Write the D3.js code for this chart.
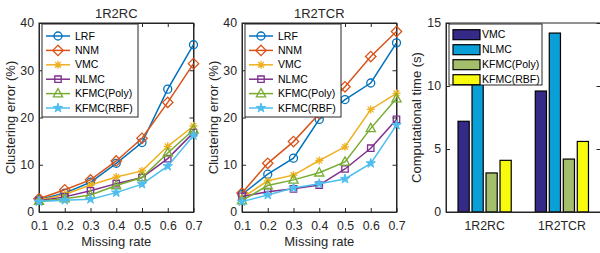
<!DOCTYPE html>
<html lang="en">
<head>
<meta charset="UTF-8">
<title>Clustering error and computational time</title>
<script src="https://d3js.org/d3.v7.min.js"></script>
<style>
    body { margin: 0; background: #fff; }
    svg { display: block; font-family: "Liberation Sans", Arial, sans-serif; }
    .axis path, .axis line { stroke: #262626; }
    .axis text { fill: #262626; font-size: 12.3px; }
    .lbl { fill: #262626; font-size: 13px; }
    .leg text { fill: #000; font-size: 10.5px; }
</style>
</head>
<body>
<svg id="chart" width="600" height="253"></svg>
<script>
// ---- data ----
const missingRates = [0.1, 0.2, 0.3, 0.4, 0.5, 0.6, 0.7];
const methods = ["LRF", "NNM", "VMC", "NLMC", "KFMC(Poly)", "KFMC(RBF)"];
const methodColors = ["#0072BD", "#D95319", "#EDB120", "#7E2F8E", "#77AC30", "#4DBEEE"];
const methodMarkers = ["o", "d", "*", "s", "^", "p"];

// clustering error (%) per method, 1R2RC
const errRC = [
    [2.6, 4.0, 6.3, 10.3, 14.7, 26.0, 35.4],
    [2.8, 4.7, 6.8, 10.8, 15.6, 23.2, 31.4],
    [2.5, 3.7, 5.7, 7.4, 8.7, 13.9, 18.2],
    [2.4, 3.2, 4.5, 6.0, 7.3, 11.3, 16.8],
    [2.3, 2.8, 3.6, 5.6, 7.3, 12.5, 17.4],
    [2.2, 2.5, 2.7, 4.1, 5.9, 9.7, 16.2]
];
// clustering error (%) per method, 1R2TCR
const errTCR = [
    [3.7, 8.0, 11.4, 19.6, 23.8, 27.3, 35.8],
    [4.0, 10.3, 14.9, 20.8, 26.5, 32.9, 38.2],
    [3.0, 6.6, 7.8, 10.9, 13.8, 21.7, 25.1],
    [3.3, 4.3, 4.9, 5.7, 9.1, 13.5, 19.6],
    [2.4, 5.6, 6.8, 8.3, 10.6, 17.7, 24.0],
    [2.2, 3.6, 5.1, 6.0, 7.0, 10.3, 18.4]
];
const errTicks = [0, 10, 20, 30, 40];

// computational time (s)
const datasets = ["1R2RC", "1R2TCR"];
const timeMethods = ["VMC", "NLMC", "KFMC(Poly)", "KFMC(RBF)"];
const timeColors = ["#352A87", "#0A9FD6", "#A5BE6B", "#F9FB0E"];
const timeVMC = [7.2, 9.6];
const timeNLMC = [12.0, 14.2];
const timePoly = [3.1, 4.2];
const timeRBF = [4.1, 5.6];
const timeTicks = [0, 5, 10, 15];

const svg = d3.select("#chart");
const plotTop = 23, plotBottom = 212, pw = 154.5;

function markerPath(type, r) {
    if (type === "o") return `M${r},0A${r},${r},0,1,1,${-r},0A${r},${r},0,1,1,${r},0Z`;
    if (type === "d") { const k = r * 1.3; return `M0,${-k}L${k},0L0,${k}L${-k},0Z`; }
    if (type === "*") { const a = r * 0.72; return `M${-r},0H${r}M0,${-r}V${r}M${-a},${-a}L${a},${a}M${-a},${a}L${a},${-a}`; }
    if (type === "s") { const k = r * 0.8; return `M${-k},${-k}H${k}V${k}H${-k}Z`; }
    if (type === "^") return `M0,${-r * 1.25}L${r * 1.15},${r * 0.8}L${-r * 1.15},${r * 0.8}Z`;
    return d3.symbol(d3.symbolStar, 27)();
}

function drawMarker(g, type, color, cx, cy) {
    g.append("path")
        .attr("d", markerPath(type, 4))
        .attr("transform", `translate(${cx},${cy})`)
        .attr("fill", type === "p" ? color : "none")
        .attr("stroke", color)
        .attr("stroke-width", type === "p" ? 1 : 1.3);
}

function frame(x, y, left, xAxisFn, yTicks) {
    // bottom / left axes with inner ticks, plus top/right mirror ticks
    svg.append("g").attr("class", "axis")
        .attr("transform", `translate(0,${plotBottom})`)
        .call(xAxisFn(d3.axisBottom(x)).tickSizeInner(-4).tickSizeOuter(0).tickPadding(9.5));
    svg.append("g").attr("class", "axis")
        .attr("transform", `translate(0,${plotTop})`)
        .call(xAxisFn(d3.axisTop(x)).tickSizeInner(-4).tickSizeOuter(0).tickFormat(""));
    svg.append("g").attr("class", "axis")
        .attr("transform", `translate(${left},0)`)
        .call(d3.axisLeft(y).tickValues(yTicks).tickSizeInner(-4).tickSizeOuter(0).tickPadding(5));
    svg.append("g").attr("class", "axis")
        .attr("transform", `translate(${left + pw},0)`)
        .call(d3.axisRight(y).tickValues(yTicks).tickSizeInner(-4).tickSizeOuter(0).tickFormat(""));
    svg.append("rect")
        .attr("x", left).attr("y", plotTop).attr("width", pw).attr("height", plotBottom - plotTop)
        .attr("fill", "none").attr("stroke", "#262626").attr("stroke-width", 1);
    svg.selectAll(".axis text").attr("font-family", null).attr("font-size", null);
}

function linePanel(left, title, errs, ylabelX) {
    const x = d3.scaleLinear().domain([0.1, 0.7]).range([left, left + pw]);
    const y = d3.scaleLinear().domain([0, 40]).range([plotBottom, plotTop]);
    frame(x, y, left, a => a.tickValues(missingRates).tickFormat(d3.format(".1f")), errTicks);

    const line = d3.line().x((d, i) => x(missingRates[i])).y(d => y(d));
    errs.forEach((vals, k) => {
        const g = svg.append("g");
        g.append("path").attr("d", line(vals))
            .attr("fill", "none").attr("stroke", methodColors[k]).attr("stroke-width", 1.5);
        vals.forEach((v, i) => drawMarker(g, methodMarkers[k], methodColors[k], x(missingRates[i]), y(v)));
    });

    // legend
    const lx = left + 3, ly = 24;
    const leg = svg.append("g").attr("class", "leg");
    leg.append("rect").attr("x", lx).attr("y", ly).attr("width", 96).attr("height", 93)
        .attr("fill", "#fff").attr("stroke", "#262626").attr("stroke-width", 1);
    methods.forEach((m, k) => {
        const ry = ly + 12 + k * 14.4;
        leg.append("line").attr("x1", lx + 4).attr("x2", lx + 28).attr("y1", ry).attr("y2", ry)
            .attr("stroke", methodColors[k]).attr("stroke-width", 1.5);
        drawMarker(leg, methodMarkers[k], methodColors[k], lx + 16, ry);
        leg.append("text").attr("x", lx + 33).attr("y", ry).attr("dy", "0.35em").text(m);
    });

    svg.append("text").attr("class", "lbl").attr("x", left + pw / 2).attr("y", 18)
        .attr("text-anchor", "middle").text(title);
    svg.append("text").attr("class", "lbl").attr("x", left + pw / 2).attr("y", 246)
        .attr("text-anchor", "middle").text("Missing rate");
    svg.append("text").attr("class", "lbl")
        .attr("transform", `translate(${ylabelX},${(plotTop + plotBottom) / 2}) rotate(-90)`)
        .attr("text-anchor", "middle").text("Clustering error (%)");
}

linePanel(39, "1R2RC", errRC, 14.5);
linePanel(242, "1R2TCR", errTCR, 217.5);

// ---- bar panel ----
const bl = 446;
const x0 = d3.scaleBand().domain(datasets).range([bl, bl + pw]).paddingInner(0.275).paddingOuter(0.1375);
const x1 = d3.scaleBand().domain(timeMethods).range([0, x0.bandwidth()]).paddingInner(0.2).paddingOuter(0.1);
const yb = d3.scaleLinear().domain([0, 15]).range([plotBottom, plotTop]);
const timeSeries = [timeVMC, timeNLMC, timePoly, timeRBF];

const bars = svg.append("g");
datasets.forEach((ds, j) => {
    timeSeries.forEach((vals, k) => {
        bars.append("rect")
            .attr("x", x0(ds) + x1(timeMethods[k]))
            .attr("y", yb(vals[j]))
            .attr("width", x1.bandwidth())
            .attr("height", plotBottom - yb(vals[j]))
            .attr("fill", timeColors[k])
            .attr("stroke", "#000").attr("stroke-width", 1.2);
    });
});

svg.append("g").attr("class", "axis")
    .attr("transform", `translate(0,${plotBottom})`)
    .call(d3.axisBottom(x0).tickSize(0).tickPadding(9.5));
svg.append("g").attr("class", "axis")
    .attr("transform", `translate(${bl},0)`)
    .call(d3.axisLeft(yb).tickValues(timeTicks).tickSizeInner(-4).tickSizeOuter(0).tickPadding(5));
svg.append("g").attr("class", "axis")
    .attr("transform", `translate(${bl + pw},0)`)
    .call(d3.axisRight(yb).tickValues(timeTicks).tickSizeInner(-4).tickSizeOuter(0).tickFormat(""));
svg.append("rect")
    .attr("x", bl).attr("y", plotTop).attr("width", pw).attr("height", plotBottom - plotTop)
    .attr("fill", "none").attr("stroke", "#262626").attr("stroke-width", 1);
svg.selectAll(".axis text").attr("font-family", null).attr("font-size", null);

const bleg = svg.append("g").attr("class", "leg");
const blx = 449, bly = 24;
bleg.append("rect").attr("x", blx).attr("y", bly).attr("width", 93).attr("height", 61)
    .attr("fill", "#fff").attr("stroke", "#262626").attr("stroke-width", 1);
timeMethods.forEach((m, k) => {
    const ry = bly + 10.7 + k * 15;
    bleg.append("rect").attr("x", blx + 4).attr("y", ry - 5).attr("width", 27).attr("height", 10)
        .attr("fill", timeColors[k]).attr("stroke", "#000").attr("stroke-width", 1.2);
    bleg.append("text").attr("x", blx + 33).attr("y", ry).attr("dy", "0.35em").text(m);
});

svg.append("text").attr("class", "lbl")
    .attr("transform", `translate(421,${(plotTop + plotBottom) / 2}) rotate(-90)`)
    .attr("text-anchor", "middle").text("Computational time (s)");
</script>
</body>
</html>
